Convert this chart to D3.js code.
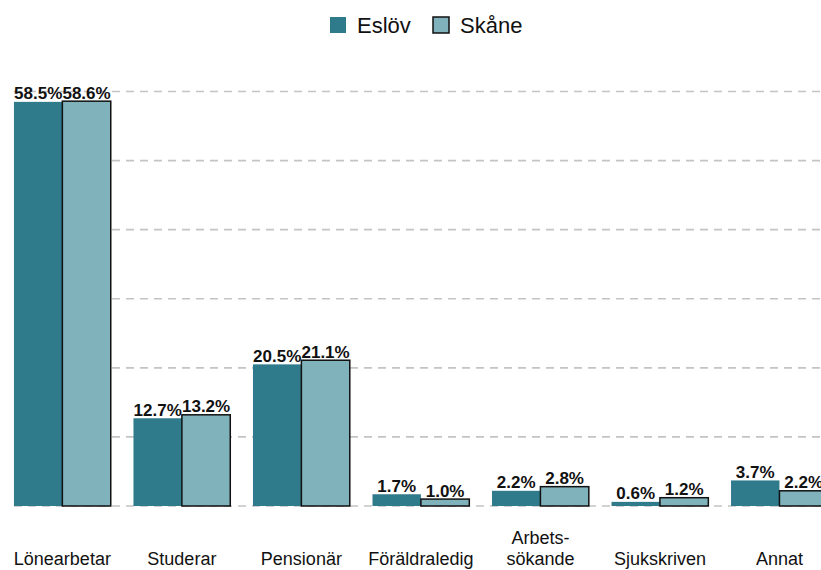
<!DOCTYPE html>
<html>
<head>
<meta charset="utf-8">
<script src="https://cdn.jsdelivr.net/npm/d3@7"></script>
<style>
  body { margin: 0; background: #fff; }
  svg { display: block; font-family: "Liberation Sans", Arial, sans-serif; }
</style>
</head>
<body>
<svg id="chart" width="821" height="570"></svg>
<script>
(() => {
    const categories = ["Lönearbetar", "Studerar", "Pensionär", "Föräldraledig", "Arbets-\nsökande", "Sjukskriven", "Annat"];
    const series = ["Eslöv", "Skåne"];
    const eslov = [58.5, 12.7, 20.5, 1.7, 2.2, 0.6, 3.7];
    const skane = [58.6, 13.2, 21.1, 1.0, 2.8, 1.2, 2.2];
    const gridTicks = [0, 10, 20, 30, 40, 50, 60];

    const colors = {"Eslöv": "#2f7a8b", "Skåne": "#7fb2ba"};

    const svg = d3.select("svg#chart");

    const xScale = d3.scaleBand()
        .domain(categories)
        .range([2.6, 839.2])
        .paddingInner(0.19)
        .paddingOuter(0.095);

    const xInner = d3.scaleBand()
        .domain(series)
        .range([0, xScale.bandwidth()]);

    const yScale = d3.scaleLinear()
        .domain([0, 60])
        .range([506, 91.5]);

    // grid lines
    svg.append("g")
        .selectAll("line")
        .data(gridTicks)
        .enter()
        .append("line")
        .attr("x1", 14)
        .attr("x2", 821)
        .attr("y1", d => yScale(d))
        .attr("y2", d => yScale(d))
        .style("stroke", "#c4c4c4")
        .style("stroke-width", 1.6)
        .style("stroke-dasharray", "8,6");

    const rows = categories.map((c, i) => ({
        cat: c,
        values: [{s: "Eslöv", v: eslov[i]}, {s: "Skåne", v: skane[i]}]
    }));

    const groups = svg.append("g")
        .selectAll("g")
        .data(rows)
        .enter()
        .append("g")
        .attr("transform", d => `translate(${xScale(d.cat)},0)`);

    groups.selectAll("rect")
        .data(d => d.values)
        .enter()
        .append("rect")
        .attr("x", d => xInner(d.s))
        .attr("y", d => yScale(d.v))
        .attr("width", xInner.bandwidth())
        .attr("height", d => yScale(0) - yScale(d.v))
        .style("fill", d => colors[d.s])
        .style("stroke", d => d.s === "Skåne" ? "#111" : "none")
        .style("stroke-width", 1.5);

    groups.selectAll("text.val")
        .data(d => d.values)
        .enter()
        .append("text")
        .attr("class", "val")
        .attr("x", d => xInner(d.s) + xInner.bandwidth() / 2)
        .attr("y", d => yScale(d.v) - 2.5)
        .attr("text-anchor", "middle")
        .style("font-family", "'Liberation Sans Narrow', 'Arial Narrow', sans-serif")
        .style("font-size", "17px")
        .style("font-weight", "bold")
        .style("fill", "#111")
        .text(d => d.v.toFixed(1) + "%");

    // category labels
    const xAxis = svg.append("g");
    categories.forEach(c => {
        const lines = c.split("\n");
        const t = xAxis.append("text")
            .attr("x", xScale(c) + xScale.bandwidth() / 2)
            .attr("y", 565 - (lines.length - 1) * 21)
            .attr("text-anchor", "middle")
            .style("font-size", "18px")
            .style("fill", "#111");
        lines.forEach((l, j) => {
            t.append("tspan")
                .attr("x", xScale(c) + xScale.bandwidth() / 2)
                .attr("dy", j === 0 ? 0 : 21)
                .text(l);
        });
    });

    // legend
    const legend = svg.append("g");
    const legendX = [330, 433];
    series.forEach((s, i) => {
        legend.append("rect")
            .attr("x", legendX[i])
            .attr("y", 17)
            .attr("width", 16)
            .attr("height", 16)
            .style("fill", colors[s])
            .style("stroke", s === "Skåne" ? "#111" : "none")
            .style("stroke-width", 1.5);
        legend.append("text")
            .attr("x", legendX[i] + 27)
            .attr("y", 33)
            .style("font-size", "22px")
            .style("fill", "#111")
            .text(s);
    });
})();
</script>
</body>
</html>
